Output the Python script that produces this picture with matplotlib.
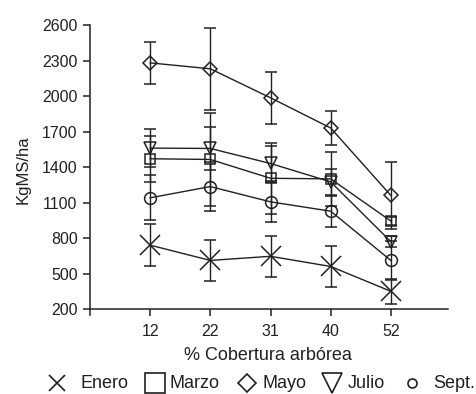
import numpy as np
import matplotlib
matplotlib.use('Agg')
import matplotlib.pyplot as plt
from matplotlib.lines import Line2D

plt.rcParams['font.family'] = ['Liberation Sans', 'DejaVu Sans']

# % cobertura arbórea (categorias) and KgMS/ha per month, with error bars
cobertura = ['12', '22', '31', '40', '52']
enero = [740, 611, 646, 560, 350]
enero_err = [176, 172, 172, 177, 105]
marzo = [1470, 1464, 1305, 1300, 944]
marzo_err = [195, 390, 300, 225, 30]
mayo = [2280, 2230, 1985, 1730, 1160]
mayo_err = [178, 345, 222, 146, 282]
julio = [1560, 1557, 1430, 1275, 770]
julio_err = [160, 185, 150, 110, 45]
sept = [1140, 1235, 1106, 1027, 611]
sept_err = [190, 205, 170, 130, 165]
meses = ['Enero', 'Marzo', 'Mayo', 'Julio', 'Sept.']

c = '#231f20'
fs = 11.5
fs_big = 13
W, H = 477, 394

fig = plt.figure(figsize=(W/100, H/100), dpi=100)
ax = fig.add_axes([90/W, 1-315/H, 358/W, 290/H])

x = np.arange(1, len(cobertura)+1)
series = [(enero, enero_err, 'x', 14),
          (marzo, marzo_err, 's', 7),
          (mayo, mayo_err, 'D', 7),
          (julio, julio_err, 'v', 9),
          (sept, sept_err, 'o', 8.5)]
for vals, err, mk, ms in series:
    ax.errorbar(x, vals, yerr=err, color=c, lw=1.0, marker=mk, ms=ms,
                mfc='none', mec=c, mew=1.1, elinewidth=1.0, capsize=4, capthick=1.0)

ax.set_xlim(0, 5.95)
ax.set_ylim(150, 2600)
ax.set_xticks(x)
ax.set_xticklabels(cobertura)
ax.set_yticks(np.arange(200, 2601, 300))
ax.spines['top'].set_visible(False)
ax.spines['right'].set_visible(False)
ax.spines['bottom'].set_position(('data', 200))
for s in ('left', 'bottom'):
    ax.spines[s].set_linewidth(1.1)
    ax.spines[s].set_color(c)
ax.tick_params(axis='both', direction='out', length=5, width=1.1, color=c,
               labelsize=fs, labelcolor=c, pad=4)
ax.tick_params(axis='x', pad=6)

ax.set_xlabel('% Cobertura arbórea', fontsize=fs_big, color=c)
ax.xaxis.set_label_coords(0.497, -0.11)
ax.set_ylabel('KgMS/ha', fontsize=12, color=c)
ax.yaxis.set_label_coords(-0.165, 0.5)

# legend row along the bottom (markers and texts placed by hand, like the original)
leg_y = 1 - 383/H
leg_marks = [('x', 11, 57, 80), ('s', 14, 155, 170), ('D', 9, 247, 262),
             ('v', 15, 332, 348), ('o', 6.5, 412, 433)]
for (mk, ms, mx, tx), lab in zip(leg_marks, meses):
    fig.add_artist(Line2D([mx/W], [leg_y], transform=fig.transFigure, ls='none',
                          marker=mk, ms=ms, color=c, mfc='none', mew=1.2))
    fig.text(tx/W, leg_y, lab, fontsize=fs_big, color=c, ha='left', va='center')

fig.savefig('out.png', dpi=100)
